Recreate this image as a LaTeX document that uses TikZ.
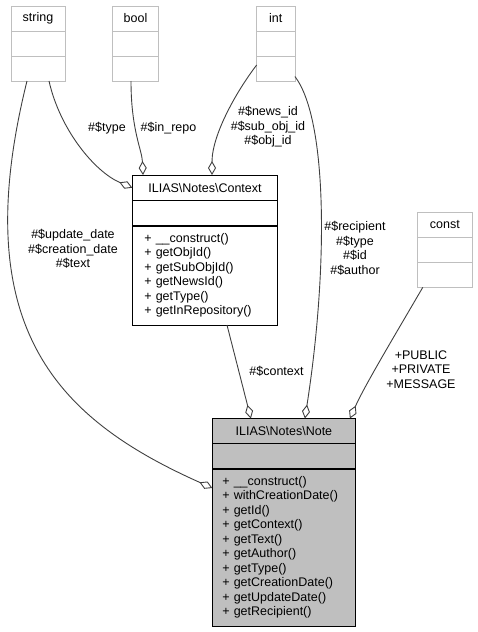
\documentclass[tikz,border=0pt]{standalone}
\usepackage{fontspec}
\setmainfont{Liberation Sans}
\usetikzlibrary{arrows.meta}
\usetikzlibrary{positioning}

\definecolor{typegray}{RGB}{191,191,191}
\definecolor{edgegray}{RGB}{64,64,64}
\definecolor{notegray}{RGB}{191,191,191}

\tikzset{
  every node/.style={font=\fontsize{12.5}{14.5}\selectfont},
  typecell/.style={draw=typegray, line width=0.9pt, minimum height=25pt, inner sep=0pt, outer sep=0pt},
  classcell/.style={draw=black, line width=0.9pt, inner sep=0pt, outer sep=0pt},
  aggr/.style={draw=edgegray, line width=0.9pt, -{Diamond[open, length=14pt, width=8pt]}},
}

\begin{document}
\begin{tikzpicture}[x=1pt, y=-1pt]
    \useasboundingbox (0,0) rectangle (478,632);
    \foreach \name/\x/\y/\w in {string/38/18.5/54, bool/135.5/18.5/45.6, int/275.8/18.5/38.3, const/444.8/224.8/55} {
        \node[typecell, minimum width=\w] (\name) at (\x,\y) {\name};
        \node[typecell, minimum width=\w, below=0pt of \name] (\name-attr) {};
        \node[typecell, minimum width=\w, below=0pt of \name-attr] (\name-ops) {};
    }
    \node[classcell, minimum width=145.4, minimum height=25.5] (context) at (205,187.75) {ILIAS\textbackslash{}Notes\textbackslash{}Context};
    \node[classcell, minimum width=145.4, minimum height=25.5, below=0pt of context] (context-attr) {};
    \node[classcell, text width=121.4, inner xsep=12pt, minimum height=99, align=left, below=0pt of context-attr] (context-ops) {+ \_\_construct()\\+ getObjId()\\+ getSubObjId()\\+ getNewsId()\\+ getType()\\+ getInRepository()};
    \draw[line width=1.8pt] (context-ops.north west) -- (context-ops.north east);
    \node[classcell, fill=notegray, minimum width=143.2, minimum height=24.5] (note) at (283.9,430.75) {ILIAS\textbackslash{}Notes\textbackslash{}Note};
    \node[classcell, fill=notegray, minimum width=143.2, minimum height=26, below=0pt of note] (note-attr) {};
    \node[classcell, fill=notegray, text width=123.2, inner xsep=10pt, minimum height=157, align=left, below=0pt of note-attr] (note-ops) {+ \_\_construct()\\+ withCreationDate()\\+ getId()\\+ getContext()\\+ getText()\\+ getAuthor()\\+ getType()\\+ getCreationDate()\\+ getUpdateDate()\\+ getRecipient()};
    \draw[line width=1.8pt] (note-ops.north west) -- (note-ops.north east);
    \draw[aggr] ([xshift=11pt]string-ops.south) .. controls (60,130) and (95,172) .. (context.west);
    \node (typelbl) at (107,128) {\#\$type};
    \draw[aggr] ([xshift=-4.5pt]bool-ops.south) .. controls (131,130) and (142,150) .. ([xshift=-62pt]context.north);
    \node (inrepolbl) at (168.5,128) {\#\$in\_repo};
    \draw[aggr] ([yshift=3.5pt]int-ops.west) .. controls (236,92) and (212,135) .. ([xshift=7pt]context.north);
    \node[align=center] (idlbl) at (268,127) {\#\$news\_id\\\#\$sub\_obj\_id\\\#\$obj\_id};
    \draw[aggr] ([xshift=-11pt]string-ops.south) .. controls (-35,330) and (60,420) .. ([yshift=59.5pt]note-ops.west);
    \node[align=center] (datelbl) at (73,249) {\#\$update\_date\\\#\$creation\_date\\\#\$text};
    \draw[aggr] ([yshift=-8pt]int-ops.east) .. controls (328,120) and (328,270) .. ([xshift=21pt]note.north);
    \node[align=center] (authorlbl) at (355,248.5) {\#\$recipient\\\#\$type\\\#\$id\\\#\$author};
    \draw[aggr] ([xshift=22pt]context-ops.south) -- ([xshift=-33pt]note.north);
    \node (contextlbl) at (276.5,371) {\#\$context};
    \draw[aggr] ([xshift=-22pt]const-ops.south) .. controls (395,335) and (365,385) .. ([xshift=66pt]note.north);
    \node[align=center] (constlbl) at (421,369.5) {+PUBLIC\\+PRIVATE\\+MESSAGE};
\end{tikzpicture}
\end{document}
